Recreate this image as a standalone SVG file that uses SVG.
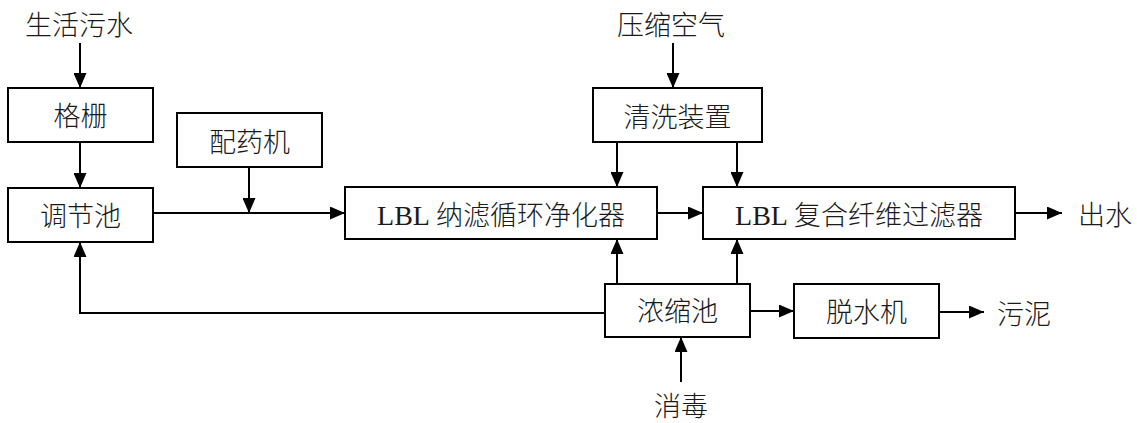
<svg xmlns="http://www.w3.org/2000/svg" width="1137" height="423" viewBox="0 0 1137 423">
<style>
.box{fill:#fff;stroke:#000;stroke-width:2}
.t{font-family:"Noto Sans CJK SC","Liberation Serif",serif;font-size:27px;font-weight:300;fill:#1a1a1a;text-anchor:middle}
.lat{font-family:"Liberation Serif",serif;font-size:28px}
.c{fill:none;stroke:#000;stroke-width:2}
</style>
<defs>
<marker id="ah" viewBox="0 0 15 13" refX="15" refY="6.5" markerWidth="15" markerHeight="13" markerUnits="userSpaceOnUse" orient="auto">
<path d="M0,0 L15,6.5 L0,13 Z" fill="#000"/>
</marker>
</defs>
<rect width="1137" height="423" fill="#fff"/>
<g id="connectors">
<path class="c" d="M80,43 V88" marker-end="url(#ah)"/>
<path class="c" d="M80,142 V188" marker-end="url(#ah)"/>
<path class="c" d="M153,213 H345" marker-end="url(#ah)"/>
<path class="c" d="M249,167 V213" marker-end="url(#ah)"/>
<path class="c" d="M673,43 V88" marker-end="url(#ah)"/>
<path class="c" d="M617,142 V187" marker-end="url(#ah)"/>
<path class="c" d="M737,142 V187" marker-end="url(#ah)"/>
<path class="c" d="M657,213 H703" marker-end="url(#ah)"/>
<path class="c" d="M1015,213 H1062" marker-end="url(#ah)"/>
<path class="c" d="M617,284 V239" marker-end="url(#ah)"/>
<path class="c" d="M737,284 V239" marker-end="url(#ah)"/>
<path class="c" d="M605,313 H80 V242" marker-end="url(#ah)"/>
<path class="c" d="M750,311 H794" marker-end="url(#ah)"/>
<path class="c" d="M939,312 H984" marker-end="url(#ah)"/>
<path class="c" d="M681,382 V337" marker-end="url(#ah)"/>
</g>
<g id="label-shenghuowushui"><text class="t" x="79" y="35">生活污水</text></g>
<g id="label-yasuokongqi"><text class="t" x="671" y="35">压缩空气</text></g>
<g id="node-gezha"><rect class="box" x="8" y="88" width="145" height="54"/><text class="t" x="80.5" y="126">格栅</text></g>
<g id="node-tiaojiechi"><rect class="box" x="8" y="188" width="145" height="54"/><text class="t" x="80.5" y="226">调节池</text></g>
<g id="node-peiyaoji"><rect class="box" x="177" y="113" width="145" height="54"/><text class="t" x="249.5" y="152">配药机</text></g>
<g id="node-qingxi"><rect class="box" x="593" y="88" width="169" height="54"/><text class="t" x="677.5" y="127">清洗装置</text></g>
<g id="node-nalv"><rect class="box" x="345" y="187" width="312" height="52"/><text class="t" x="501" y="225"><tspan class="lat">LBL </tspan>纳滤循环净化器</text></g>
<g id="node-fuhe"><rect class="box" x="703" y="187" width="312" height="52"/><text class="t" x="859" y="225"><tspan class="lat">LBL </tspan>复合纤维过滤器</text></g>
<g id="label-chushui"><text class="t" x="1105" y="225">出水</text></g>
<g id="node-nongsuochi"><rect class="box" x="605" y="284" width="145" height="53"/><text class="t" x="677.5" y="321">浓缩池</text></g>
<g id="node-tuoshuiji"><rect class="box" x="794" y="284" width="145" height="54"/><text class="t" x="866.5" y="322">脱水机</text></g>
<g id="label-wuni"><text class="t" x="1024" y="324">污泥</text></g>
<g id="label-xiaodu"><text class="t" x="681" y="416">消毒</text></g>
</svg>
